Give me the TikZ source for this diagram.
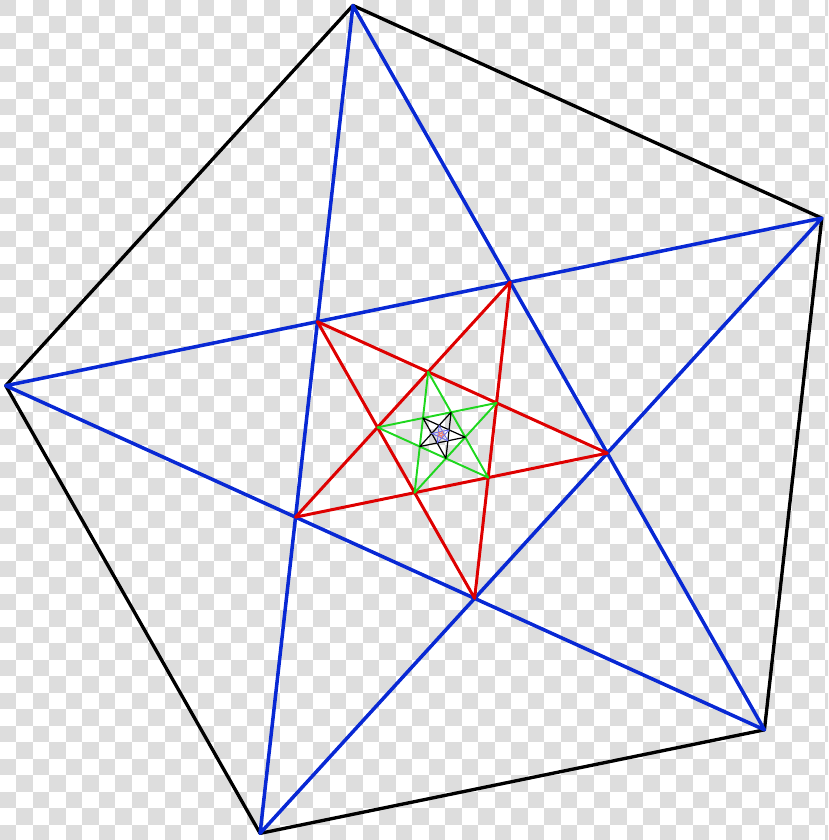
\documentclass[tikz,border=0pt]{standalone}
\usepackage{xcolor}
\usepackage{tikz}
\usetikzlibrary{calc}

\definecolor{checkgrey}{RGB}{221,221,221}
\definecolor{starblue}{RGB}{8,40,212}
\definecolor{starred}{RGB}{222,0,0}
\definecolor{stargreen}{RGB}{30,215,30}
\definecolor{starlight}{RGB}{110,110,235}
\definecolor{starpink}{RGB}{235,120,110}

\begin{document}
\begin{tikzpicture}[line join=round, line cap=round]
      \useasboundingbox (0,0) rectangle (8.28,8.40);

      % checkerboard behind the figure
      \begin{scope}
        \clip (0,0) rectangle (8.28,8.40);
        \foreach \i in {0,2,...,50}
          \foreach \j in {0,2,...,50} {
            \fill[checkgrey] ({-0.005+\i*0.1651},{8.405-\j*0.1651}) rectangle ++(0.1651,-0.1651);
            \fill[checkgrey] ({-0.005+(\i+1)*0.1651},{8.405-(\j+1)*0.1651}) rectangle ++(0.1651,-0.1651);
          }
      \end{scope}

      \coordinate (c) at (4.41,4.055);

      % corners of every level
      \foreach \k in {0,...,5} {
        \pgfmathsetmacro\rad{4.38*0.381966^\k}
        \pgfmathsetmacro\rot{101.6+180*\k}
        \foreach \m in {0,...,4}
          \coordinate (v\k-\m) at ($(c)+(\rot+72*\m:\rad)$);
      }

      % outer pentagon
      \draw[black, line width=0.95pt] (v0-0) -- (v0-1) -- (v0-2) -- (v0-3) -- (v0-4) -- cycle;

      % nested stars
      \foreach \k/\col/\w in {0/starblue/1.0pt, 1/starred/0.85pt, 2/stargreen/0.55pt,
                              3/black/0.35pt, 4/starlight/0.25pt, 5/starpink/0.15pt}
        \draw[\col, line width=\w] (v\k-0) -- (v\k-2) -- (v\k-4) -- (v\k-1) -- (v\k-3) -- cycle;
    \end{tikzpicture}
\end{document}
